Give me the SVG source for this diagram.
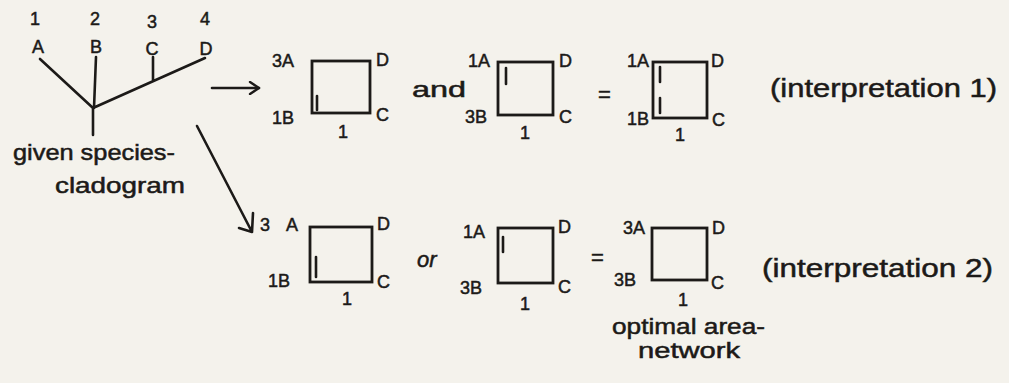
<svg xmlns="http://www.w3.org/2000/svg" width="1009" height="383" viewBox="0 0 1009 383">
<defs>
<style>
.bg{fill:#f4f2ec}
.ln{stroke:#1c1a18;stroke-width:2.6;fill:none;stroke-linecap:round;stroke-linejoin:round}
.sq{stroke:#1c1a18;stroke-width:2.8;fill:none}
.t{font-family:"Liberation Sans",Arial,sans-serif;fill:#1c1a18;stroke:#1c1a18;stroke-width:0.5}
.s{font-size:18px}
.m{font-size:22px}
.b{font-size:26px}
</style>
<marker id="ah" markerWidth="14" markerHeight="14" refX="11" refY="7" orient="auto" markerUnits="userSpaceOnUse">
<path d="M2,1 L11,7 L2,13" fill="none" stroke="#1c1a18" stroke-width="2.4" stroke-linecap="round" stroke-linejoin="round"/>
</marker>
</defs>
<rect class="bg" x="0" y="0" width="1009" height="383"/>

<g id="cladogram">
<path class="ln" d="M40,59 L93,108 M96,57 L94,108 M93,108 L205,58 M153,57 L153,81 M93,108 L93,135"/>
<text class="t s" x="35" y="25" text-anchor="middle">1</text>
<text class="t s" x="95" y="25" text-anchor="middle">2</text>
<text class="t s" x="152" y="28" text-anchor="middle">3</text>
<text class="t s" x="205" y="25" text-anchor="middle">4</text>
<text class="t s" x="38" y="53" text-anchor="middle">A</text>
<text class="t s" x="96" y="53" text-anchor="middle">B</text>
<text class="t s" x="152" y="55" text-anchor="middle">C</text>
<text class="t s" x="206" y="55" text-anchor="middle">D</text>
<text class="t m" x="13" y="160" textLength="162" lengthAdjust="spacingAndGlyphs">given species-</text>
<text class="t m" x="55" y="193" textLength="130" lengthAdjust="spacingAndGlyphs">cladogram</text>
</g>

<g id="connectors">
<line class="ln" x1="212" y1="88" x2="259" y2="88" marker-end="url(#ah)"/>
<path class="ln" d="M197,126 L252,232 M253,213 L252,232 L239,228"/>
</g>

<g id="net1a">
<rect class="sq" x="312" y="61" width="58" height="52"/>
<line class="ln" x1="317" y1="96" x2="317" y2="110"/>
<text class="t s" x="272" y="67">3A</text>
<text class="t s" x="272" y="124">1B</text>
<text class="t s" x="376" y="66">D</text>
<text class="t s" x="376" y="121">C</text>
<text class="t s" x="343" y="138" text-anchor="middle">1</text>
</g>

<text id="and" class="t m" x="412" y="97" textLength="54" lengthAdjust="spacingAndGlyphs">and</text>

<g id="net1b">
<rect class="sq" x="498" y="62" width="55" height="53"/>
<line class="ln" x1="506" y1="68" x2="506" y2="84"/>
<text class="t s" x="468" y="67">1A</text>
<text class="t s" x="465" y="123">3B</text>
<text class="t s" x="559" y="67">D</text>
<text class="t s" x="559" y="123">C</text>
<text class="t s" x="525" y="139" text-anchor="middle">1</text>
</g>

<text id="eq1" class="t m" x="598" y="102">=</text>

<g id="net1c">
<rect class="sq" x="653" y="62" width="54" height="56"/>
<line class="ln" x1="660" y1="67" x2="660" y2="82"/>
<line class="ln" x1="660" y1="98" x2="660" y2="113"/>
<text class="t s" x="627" y="67">1A</text>
<text class="t s" x="627" y="125">1B</text>
<text class="t s" x="711" y="67">D</text>
<text class="t s" x="712" y="126">C</text>
<text class="t s" x="680" y="141" text-anchor="middle">1</text>
</g>

<text id="interp1" class="t b" x="770" y="97" textLength="227" lengthAdjust="spacingAndGlyphs">(interpretation 1)</text>

<g id="net2a">
<rect class="sq" x="310" y="227" width="62" height="55"/>
<line class="ln" x1="316" y1="257" x2="316" y2="277"/>
<text class="t s" x="260" y="231">3</text>
<text class="t s" x="286" y="231">A</text>
<text class="t s" x="268" y="287">1B</text>
<text class="t s" x="377" y="230">D</text>
<text class="t s" x="377" y="288">C</text>
<text class="t s" x="347" y="305" text-anchor="middle">1</text>
</g>

<text id="or" class="t m" x="417" y="267" font-style="italic">or</text>

<g id="net2b">
<rect class="sq" x="498" y="228" width="55" height="55"/>
<line class="ln" x1="503" y1="237" x2="503" y2="252"/>
<text class="t s" x="463" y="238">1A</text>
<text class="t s" x="460" y="294">3B</text>
<text class="t s" x="558" y="233">D</text>
<text class="t s" x="558" y="293">C</text>
<text class="t s" x="525" y="310" text-anchor="middle">1</text>
</g>

<text id="eq2" class="t m" x="591" y="265">=</text>

<g id="net2c">
<rect class="sq" x="652" y="228" width="55" height="52"/>
<text class="t s" x="623" y="234">3A</text>
<text class="t s" x="614" y="286">3B</text>
<text class="t s" x="712" y="234">D</text>
<text class="t s" x="711" y="289">C</text>
<text class="t s" x="683" y="306" text-anchor="middle">1</text>
<text class="t m" x="612" y="334" textLength="153" lengthAdjust="spacingAndGlyphs">optimal area-</text>
<text class="t m" x="638" y="358" textLength="102" lengthAdjust="spacingAndGlyphs">network</text>
</g>

<text id="interp2" class="t b" x="762" y="277" textLength="231" lengthAdjust="spacingAndGlyphs">(interpretation 2)</text>
</svg>
